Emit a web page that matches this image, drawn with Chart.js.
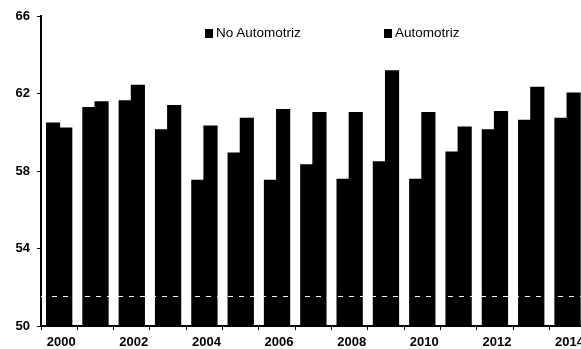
<!DOCTYPE html>
<html><head><meta charset="utf-8">
<script src="https://cdn.jsdelivr.net/npm/chart.js@4"></script>
<style>
html,body{margin:0;padding:0;overflow:hidden;background:#fff;width:581px;height:349px;}
#wrap{position:relative;width:587px;height:349px;}
canvas{position:absolute;left:0;top:0;}
.lg{position:absolute;font:13.5px "Liberation Sans",Arial,sans-serif;color:#000;line-height:14px;white-space:nowrap}
.sw{display:inline-block;width:8px;height:9px;background:#000;margin-right:3px;vertical-align:-1px}
</style></head>
<body><div id="wrap"><canvas id="c" width="587" height="349"></canvas>
<div class="lg" id="lg0" style="left:205px;top:26px"></div>
<div class="lg" id="lg1" style="left:384px;top:26px"></div>
</div>
<script>
const years = ['2000','2001','2002','2003','2004','2005','2006','2007','2008','2009','2010','2011','2012','2013','2014'];
const seriesNames = ['No Automotriz','Automotriz'];
const noAutomotriz = [60.45,61.25,61.6,60.1,57.5,58.9,57.5,58.3,57.55,58.45,57.55,58.95,60.1,60.6,60.7];
const automotriz   = [60.2,61.55,62.4,61.35,60.3,60.7,61.15,61.0,61.0,63.15,61.0,60.25,61.05,62.3,62.0];
const yTicks = [50,54,58,62,66];
const refLine = 51.55;

['lg0','lg1'].forEach((id,i)=>{
  const d=document.getElementById(id);
  const s=document.createElement('span'); s.className='sw'; d.appendChild(s);
  d.appendChild(document.createTextNode(seriesNames[i]));
});

const dashPlugin = {
  id:'dash',
  afterDatasetsDraw(chart){
    const {ctx, chartArea, scales} = chart;
    const y = scales.y.getPixelForValue(refLine);
    ctx.save();
    ctx.strokeStyle='#fff'; ctx.lineWidth=1; ctx.setLineDash([5,6]);
    ctx.beginPath(); ctx.moveTo(chartArea.left, y+0.5); ctx.lineTo(chartArea.right, y+0.5); ctx.stroke();
    ctx.restore();
  }
};

new Chart(document.getElementById('c'), {
  type:'bar',
  data:{
    labels: years,
    datasets:[
      {label:seriesNames[0], data:noAutomotriz, backgroundColor:'#000', borderWidth:0, inflateAmount:1, categoryPercentage:0.67, barPercentage:1},
      {label:seriesNames[1], data:automotriz, backgroundColor:'#000', borderWidth:0, inflateAmount:1, categoryPercentage:0.67, barPercentage:1}
    ]
  },
  plugins:[dashPlugin],
  options:{
    responsive:false,
    animation:false,
    layout:{padding:{top:16,left:0,right:0,bottom:0}},
    plugins:{legend:{display:false}, tooltip:{enabled:false}, title:{display:false}},
    scales:{
      x:{
        offset:true,
        grid:{offset:true, drawOnChartArea:false, drawTicks:true, tickLength:4, color:'#000', lineWidth:1},
        border:{display:true, color:'#000', width:2},
        ticks:{autoSkip:false, maxRotation:0, padding:5, labelOffset:2, color:'#000',
          font:{family:'"Liberation Sans", Arial, sans-serif', size:13, weight:'bold'},
          callback:function(v,i){ const l=years[i]; return (parseInt(l)%2===0)? l : ''; }},
        afterFit(s){ s.height = 23; }
      },
      y:{
        min:50, max:66,
        afterBuildTicks(s){ s.ticks = yTicks.map(v=>({value:v})); },
        grid:{drawOnChartArea:false, drawTicks:true, tickLength:4, color:'#000', lineWidth:1},
        border:{display:true, color:'#000', width:2},
        ticks:{padding:7, color:'#000',
          font:{family:'"Liberation Sans", Arial, sans-serif', size:13, weight:'bold'}},
        afterFit(s){ s.width = 41; }
      }
    }
  }
});
</script>
</body></html>
